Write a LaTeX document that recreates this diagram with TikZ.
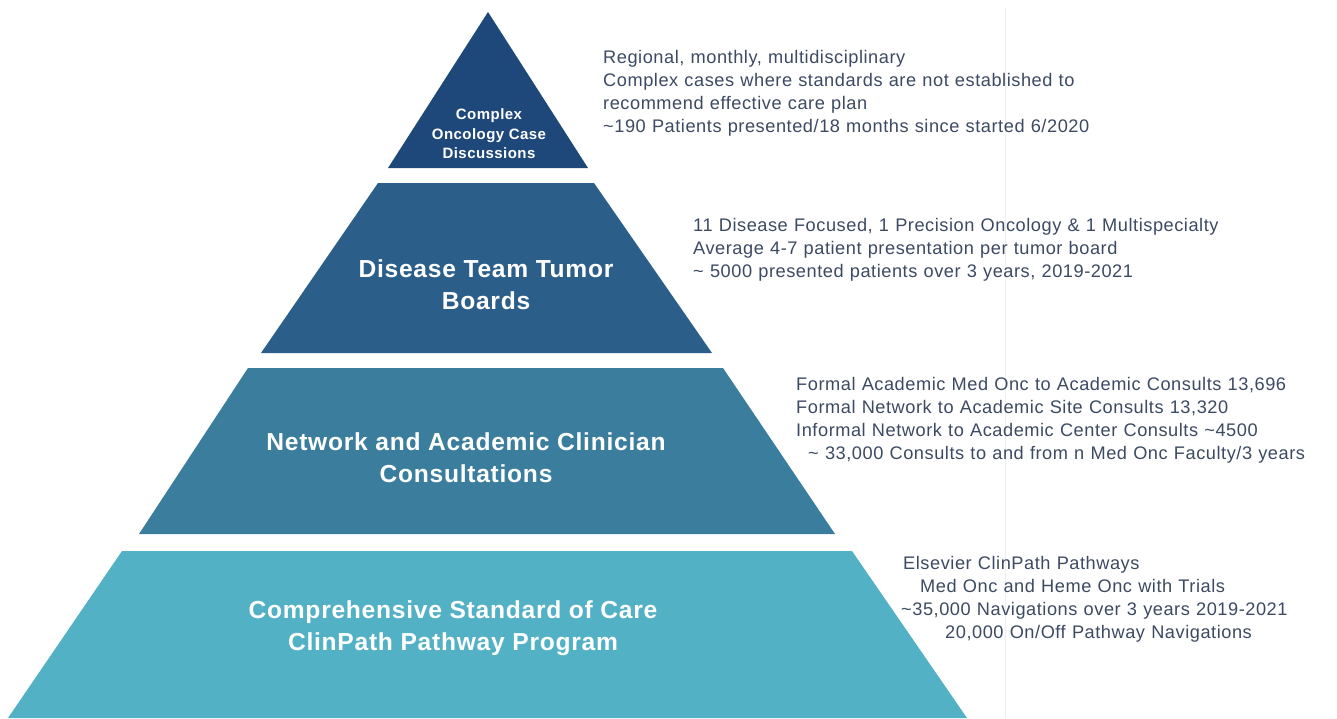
\documentclass[tikz,border=0pt]{standalone}
\usepackage{fontspec}
\setmainfont{Liberation Sans}
\newfontfamily\widesans[LetterSpace=3]{Liberation Sans}
\begin{document}
\begin{tikzpicture}[x=1pt,y=-1pt,
  tierlabel/.style={text=white,font=\widesans\bfseries\fontsize{24.6}{32}\selectfont,align=center,inner sep=0pt},
  toplabel/.style={text=white,font=\widesans\bfseries\fontsize{15}{19.5}\selectfont,align=center,inner sep=0pt},
  note/.style={text=notegray,font={\widesans\fontsize{18.2}{23}\selectfont\spaceskip=6.2pt plus 1pt\relax},align=left,anchor=north west,inner sep=0pt}]
\definecolor{tierA}{RGB}{31,72,122}
\definecolor{tierB}{RGB}{43,95,138}
\definecolor{tierC}{RGB}{58,125,157}
\definecolor{tierD}{RGB}{83,177,198}
\definecolor{notegray}{RGB}{60,74,98}
\definecolor{guide}{RGB}{236,238,240}
\useasboundingbox (0,0) rectangle (1337,718);
\fill[white] (0,0) rectangle (1337,718);
% faint vertical guide line
\draw[guide,line width=0.8pt] (1005,8) -- (1005,718);
% pyramid tiers, top to bottom
\fill[tierA] (488,12) -- (588,168) -- (388,168) -- cycle;
\fill[tierB] (378,183) -- (594,183) -- (712,353) -- (261,353) -- cycle;
\fill[tierC] (248,368) -- (723,368) -- (835,534) -- (139,534) -- cycle;
\fill[tierD] (122,551) -- (852,551) -- (967,718) -- (8,718) -- cycle;
% tier labels
\node[toplabel] (t1) at (489,134) {Complex\\Oncology Case\\Discussions};
\node[tierlabel] (t2) at (486,285) {Disease Team Tumor\\Boards};
\node[tierlabel] (t3) at (466,458) {Network and Academic Clinician\\Consultations};
\node[tierlabel] (t4) at (453,628) {Comprehensive Standard of Care\\ClinPath Pathway Program};
% notes beside each tier
\node[note] (n1) at (603,50) {Regional, monthly, multidisciplinary\\Complex cases where standards are not established to\\recommend effective care plan\\\textasciitilde190 Patients presented/18 months since started 6/2020};
\node[note] (n2) at (693,218) {11 Disease Focused, 1 Precision Oncology \& 1 Multispecialty\\Average 4-7 patient presentation per tumor board\\\textasciitilde{} 5000 presented patients over 3 years, 2019-2021};
\node[note] (n3) at (796,377) {Formal Academic Med Onc to Academic Consults 13,696\\Formal Network to Academic Site Consults 13,320\\Informal Network to Academic Center Consults \textasciitilde4500\\\hspace*{12pt}\textasciitilde{} 33,000 Consults to and from n Med Onc Faculty/3 years};
\node[note] (n4) at (901,556) {\hspace*{2pt}Elsevier ClinPath Pathways\\\hspace*{19pt}Med Onc and Heme Onc with Trials\\\textasciitilde35,000 Navigations over 3 years 2019-2021\\\hspace*{44pt}20,000 On/Off Pathway Navigations};
\end{tikzpicture}
\end{document}
